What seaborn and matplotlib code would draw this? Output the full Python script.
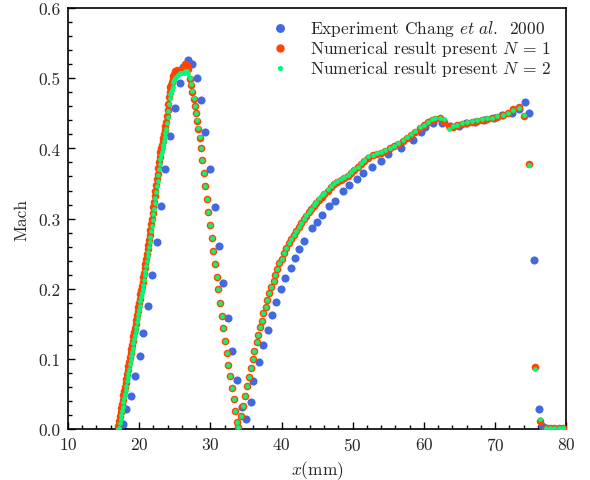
import matplotlib
matplotlib.use("Agg")
import matplotlib.pyplot as plt
from matplotlib.ticker import MultipleLocator, FormatStrFormatter
import pandas as pd
import seaborn as sns

# Experimental data (Chang et al. 2000)
x_exp = [17.7, 18.2, 18.8, 19.4, 20.1, 20.6, 21.3, 21.85, 22.5, 23.1,
         23.7, 24.4, 25.0, 25.7, 26.2, 26.8, 27.5, 28.1, 28.65, 29.3,
         30.0, 30.66, 31.2, 31.8, 32.5, 33.1, 33.8, 34.4, 35.0, 35.7,
         36.05, 36.85, 37.45, 38.15, 38.6, 39.2, 39.9, 40.5, 41.3, 41.9,
         42.5, 43.1, 44.3, 45.0, 45.75, 46.7, 47.5, 48.6, 49.5, 50.6,
         51.5, 52.7, 53.9, 55.0, 56.8, 58.45, 59.6, 60.2, 61.3, 62.5,
         63.7, 64.9, 65.9, 67.1, 68.4, 69.8, 71.0, 72.4, 73.3, 74.2,
         74.8, 75.4, 76.1, 76.6, 77.2]
mach_exp = [0.007, 0.028, 0.047, 0.075, 0.104, 0.137, 0.176, 0.219, 0.267, 0.318,
            0.370, 0.418, 0.457, 0.493, 0.516, 0.526, 0.520, 0.501, 0.469, 0.424,
            0.371, 0.316, 0.261, 0.208, 0.158, 0.111, 0.070, 0.032, 0.014, 0.038,
            0.069, 0.095, 0.120, 0.141, 0.163, 0.181, 0.200, 0.215, 0.230, 0.244,
            0.256, 0.268, 0.286, 0.295, 0.305, 0.318, 0.325, 0.339, 0.348, 0.356,
            0.365, 0.374, 0.382, 0.392, 0.401, 0.412, 0.424, 0.430, 0.436, 0.436,
            0.432, 0.432, 0.436, 0.437, 0.440, 0.443, 0.447, 0.451, 0.456, 0.466,
            0.451, 0.241, 0.028, 0.005, 0.001]

# Numerical results (same sampling for N=1 and N=2)
x_num = [17.1, 17.2, 17.3, 17.4, 17.5, 17.6, 17.7, 17.8, 17.9, 18.0,
         18.1, 18.2, 18.3, 18.4, 18.5, 18.6, 18.7, 18.8, 18.9, 19.0,
         19.1, 19.2, 19.3, 19.4, 19.5, 19.6, 19.7, 19.8, 19.9, 20.0,
         20.1, 20.2, 20.3, 20.4, 20.5, 20.6, 20.7, 20.8, 20.9, 21.0,
         21.1, 21.2, 21.3, 21.4, 21.5, 21.6, 21.7, 21.8, 21.9, 22.0,
         22.1, 22.2, 22.3, 22.4, 22.5, 22.6, 22.7, 22.8, 22.9, 23.0,
         23.1, 23.2, 23.3, 23.4, 23.5, 23.6, 23.7, 23.8, 23.9, 24.0,
         24.1, 24.2, 24.3, 24.4, 24.5, 24.6, 24.7, 24.8, 24.9,
         25.1, 25.3, 25.5, 25.7, 25.9, 26.1, 26.3, 26.5, 26.7, 26.9,
         27.15, 27.35, 27.5, 27.65, 27.8, 27.95, 28.1, 28.3, 28.5, 28.7,
         28.9, 29.1, 29.3, 29.5, 29.7, 29.95, 30.2, 30.4, 30.65, 30.9,
         31.1, 31.35, 31.6, 31.8, 32.05, 32.3, 32.55, 32.8, 33.05, 33.3,
         33.5, 33.7, 33.9,
         34.3, 34.55, 34.9, 35.1, 35.4, 35.7, 35.96, 36.2, 36.5, 36.75,
         37.0, 37.2, 37.45, 37.8, 38.0, 38.3, 38.5, 38.9, 39.1, 39.4,
         39.7, 40.0, 40.4, 40.6, 41.0, 41.3, 41.7, 42.05, 42.4, 42.75,
         43.1, 43.45, 43.8, 44.2, 44.5, 44.9, 45.3, 45.7, 46.0, 46.5,
         46.9, 47.4, 47.85, 48.3, 48.8, 49.3, 49.8, 50.2, 50.7, 51.2,
         51.65, 52.2, 52.8, 53.4, 54.0, 54.6,
         55.2, 55.8, 56.4, 57.0, 57.6, 58.2, 58.8, 59.4, 60.0, 60.5,
         61.1, 61.5, 62.2, 62.85, 63.45, 64.1, 64.7, 65.4, 66.1, 66.8,
         67.5, 68.2, 68.9, 69.6, 70.3, 71.05, 71.75, 72.5, 73.3, 74.0,
         74.8, 75.55, 76.35, 77.1, 77.7, 78.3, 78.9, 79.5]

mach_n1 = [0.004, 0.012, 0.018, 0.024, 0.030, 0.036, 0.042, 0.048, 0.054, 0.060,
           0.066, 0.072, 0.078, 0.084, 0.090, 0.096, 0.102, 0.108, 0.114, 0.120,
           0.126, 0.132, 0.138, 0.144, 0.150, 0.156, 0.162, 0.168, 0.174, 0.180,
           0.186, 0.192, 0.198, 0.204, 0.210, 0.216, 0.222, 0.229, 0.235, 0.242,
           0.249, 0.256, 0.263, 0.270, 0.277, 0.284, 0.292, 0.300, 0.308, 0.316,
           0.324, 0.332, 0.340, 0.348, 0.356, 0.364, 0.372, 0.380, 0.388, 0.395,
           0.400, 0.405, 0.410, 0.415, 0.420, 0.426, 0.432, 0.438, 0.446, 0.455,
           0.464, 0.473, 0.481, 0.487, 0.491, 0.495, 0.499, 0.503, 0.506,
           0.511, 0.512, 0.511, 0.510, 0.511, 0.513, 0.516, 0.520, 0.519, 0.513,
           0.499, 0.491, 0.481, 0.471, 0.461, 0.450, 0.439, 0.428, 0.415, 0.400,
           0.383, 0.365, 0.347, 0.328, 0.310, 0.291, 0.272, 0.254, 0.235, 0.217,
           0.199, 0.180, 0.161, 0.144, 0.126, 0.108, 0.091, 0.075, 0.058, 0.043,
           0.026, 0.010, 0.003,
           0.019, 0.033, 0.047, 0.061, 0.074, 0.087, 0.100, 0.111, 0.124, 0.134,
           0.145, 0.154, 0.165, 0.174, 0.184, 0.194, 0.203, 0.211, 0.219, 0.228,
           0.236, 0.243, 0.251, 0.258, 0.265, 0.271, 0.276, 0.283, 0.288, 0.294,
           0.299, 0.304, 0.309, 0.313, 0.318, 0.322, 0.327, 0.331, 0.335, 0.340,
           0.345, 0.349, 0.352, 0.355, 0.358, 0.361, 0.365, 0.369, 0.373, 0.378,
           0.382, 0.387, 0.390, 0.392, 0.394, 0.397,
           0.400, 0.403, 0.407, 0.411, 0.415, 0.419, 0.424, 0.429, 0.433, 0.437,
           0.441, 0.442, 0.443, 0.437, 0.432, 0.431, 0.433, 0.435, 0.436, 0.438,
           0.439, 0.441, 0.442, 0.443, 0.445, 0.447, 0.450, 0.456, 0.459, 0.446,
           0.378, 0.088, 0.012, 0.002, 0.002, 0.002, 0.002, 0.002]

mach_n2 = [0.000, 0.002, 0.008, 0.014, 0.020, 0.026, 0.032, 0.038, 0.044, 0.050,
           0.056, 0.062, 0.068, 0.074, 0.080, 0.086, 0.092, 0.098, 0.104, 0.110,
           0.116, 0.122, 0.128, 0.134, 0.140, 0.146, 0.152, 0.158, 0.164, 0.170,
           0.176, 0.182, 0.188, 0.194, 0.200, 0.206, 0.212, 0.219, 0.225, 0.232,
           0.239, 0.246, 0.253, 0.260, 0.267, 0.274, 0.282, 0.290, 0.298, 0.306,
           0.314, 0.322, 0.330, 0.338, 0.346, 0.354, 0.362, 0.370, 0.378, 0.385,
           0.390, 0.395, 0.400, 0.405, 0.410, 0.416, 0.422, 0.428, 0.436, 0.445,
           0.454, 0.463, 0.472, 0.477, 0.480, 0.484, 0.488, 0.494, 0.497,
           0.500, 0.503, 0.505, 0.507, 0.507, 0.507, 0.508, 0.510, 0.511, 0.506,
           0.500, 0.492, 0.482, 0.472, 0.461, 0.450, 0.440, 0.429, 0.416, 0.400,
           0.383, 0.365, 0.347, 0.328, 0.310, 0.291, 0.272, 0.254, 0.235, 0.217,
           0.199, 0.180, 0.161, 0.144, 0.126, 0.108, 0.091, 0.075, 0.058, 0.043,
           0.026, 0.010, 0.003,
           0.019, 0.033, 0.047, 0.061, 0.074, 0.087, 0.100, 0.111, 0.124, 0.134,
           0.145, 0.154, 0.165, 0.174, 0.184, 0.194, 0.203, 0.211, 0.219, 0.228,
           0.236, 0.243, 0.251, 0.258, 0.265, 0.271, 0.276, 0.283, 0.288, 0.294,
           0.299, 0.305, 0.310, 0.314, 0.319, 0.324, 0.329, 0.333, 0.337, 0.342,
           0.347, 0.351, 0.354, 0.356, 0.359, 0.362, 0.366, 0.370, 0.374, 0.379,
           0.383, 0.389, 0.391, 0.393, 0.395, 0.398,
           0.401, 0.404, 0.408, 0.412, 0.416, 0.420, 0.425, 0.430, 0.434, 0.438,
           0.442, 0.443, 0.444, 0.442, 0.428, 0.432, 0.434, 0.436, 0.437, 0.439,
           0.440, 0.442, 0.443, 0.444, 0.446, 0.448, 0.451, 0.455, 0.458, 0.447,
           0.377, 0.086, 0.014, 0.002, 0.002, 0.002, 0.002, 0.002]

label_exp = r"Experiment Chang $et\ al$.  2000"
label_n1 = r"Numerical result present $N\,=\,1$"
label_n2 = r"Numerical result present $N\,=\,2$"

sns.set_style("ticks")
plt.rcParams["font.family"] = ["cmr10", "DejaVu Serif"]
plt.rcParams["mathtext.fontset"] = "cm"
plt.rcParams["axes.formatter.use_mathtext"] = True

df_exp = pd.DataFrame({"x": x_exp, "mach": mach_exp})
df_num = pd.DataFrame({"x": x_num, "n1": mach_n1, "n2": mach_n2})

fig = plt.figure(figsize=(5.9, 4.81), dpi=100)
ax = fig.add_axes([0.115, 0.106, 0.845, 0.875])

sns.scatterplot(data=df_exp, x="x", y="mach", ax=ax, color="#4169E1",
                s=34, linewidth=0, label=label_exp, zorder=3)
sns.scatterplot(data=df_num, x="x", y="n1", ax=ax, color="#FF4500",
                s=30, linewidth=0, label=label_n1, zorder=4)
sns.scatterplot(data=df_num, x="x", y="n2", ax=ax, color="#00FA7A",
                s=12, linewidth=0, label=label_n2, zorder=5)

ax.set_xlim(10, 80)
ax.set_ylim(0, 0.6)
ax.xaxis.set_major_locator(MultipleLocator(10))
ax.xaxis.set_minor_locator(MultipleLocator(2))
ax.yaxis.set_major_locator(MultipleLocator(0.1))
ax.yaxis.set_minor_locator(MultipleLocator(0.02))
ax.yaxis.set_major_formatter(FormatStrFormatter("%.1f"))
ax.tick_params(which="both", direction="in", top=False, right=False,
               labelsize=12.5, color="black", width=1.0, pad=5)
ax.tick_params(which="major", length=5)
ax.tick_params(which="minor", length=3)
for sp in ax.spines.values():
    sp.set_visible(True)
    sp.set_color("black")
    sp.set_linewidth(1.2)

ax.set_xlabel(r"$x$(mm)", fontsize=12.5, labelpad=4)
ax.set_ylabel("Mach", fontsize=12.5, labelpad=7)

ax.legend(loc="upper right", bbox_to_anchor=(0.988, 1.0), frameon=False,
          fontsize=12.5, handletextpad=1.0, borderaxespad=0.15,
          labelspacing=0.0, handlelength=1.4, markerscale=1.1)

fig.savefig("out.png", dpi=100)
